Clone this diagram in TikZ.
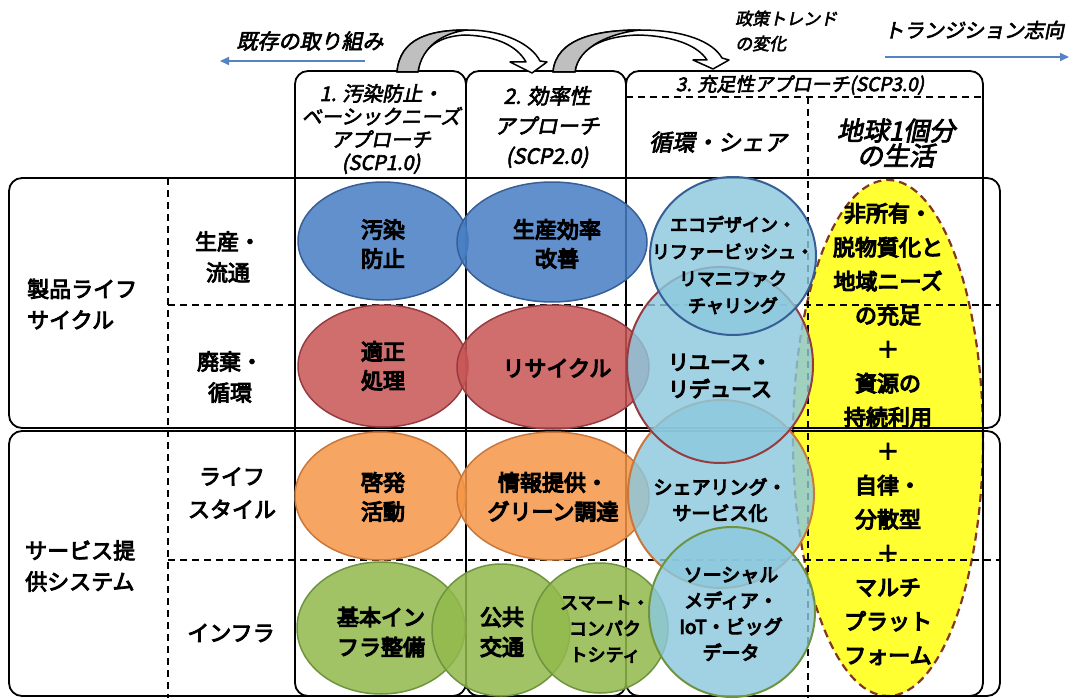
\documentclass[tikz,border=0pt]{standalone}
\usepackage{fontspec}
\newfontfamily\jp{Noto Sans CJK JP}
\newfontfamily\jpm[FakeBold=4]{Noto Sans CJK JP}
\newfontfamily\jpb[FakeBold=5.5]{Noto Sans CJK JP}
\newfontfamily\jpi[FakeSlant=0.2,FakeBold=3]{Noto Sans CJK JP}
\usetikzlibrary{arrows.meta}
\definecolor{cblue}{RGB}{70,125,195}
\definecolor{cbluel}{RGB}{55,95,150}
\definecolor{cred}{RGB}{200,85,85}
\definecolor{credl}{RGB}{150,60,65}
\definecolor{corange}{RGB}{245,150,70}
\definecolor{corangel}{RGB}{200,120,60}
\definecolor{cgreen}{RGB}{145,185,75}
\definecolor{cgreenl}{RGB}{110,148,64}
\definecolor{clblue}{RGB}{140,200,222}
\definecolor{cyellow}{RGB}{255,255,50}
\definecolor{cbrown}{RGB}{130,55,30}
\definecolor{carrow}{RGB}{85,130,195}
\tikzset{
  frame/.style={draw=black, line width=1.8pt, rounded corners=13pt},
  dline/.style={draw=black, line width=1.6pt, dash pattern=on 7pt off 5pt},
  ell/.style={line width=1.5pt, fill opacity=0.85},
  eblue/.style={ell, fill=cblue, draw=cbluel},
  ered/.style={ell, fill=cred, draw=credl},
  eorange/.style={ell, fill=corange, draw=corangel},
  egreen/.style={ell, fill=cgreen, draw=cgreenl},
  circ/.style={line width=2pt, fill=clblue, fill opacity=0.82},
  cell/.style={font=\jpb\fontsize{22}{29}\selectfont, align=center, inner sep=0pt},
  ctext/.style={font=\jpb\fontsize{18}{27}\selectfont, align=center, inner sep=0pt},
  lab/.style={font=\jpm\fontsize{22}{31}\selectfont, align=center, inner sep=0pt},
  head/.style={font=\jpi\fontsize{20}{23}\selectfont, align=center, inner sep=0pt},
  bluearrow/.style={draw=carrow, line width=2pt, -{Triangle[length=9pt,width=8pt]}},
  bandarrow/.style={draw=black, line width=1.5pt, fill=white, line join=round},
  bandgray/.style={draw=black, line width=1.5pt, fill=black!25, line join=round}
}
\begin{document}
\begin{tikzpicture}[x=1pt,y=-1pt]
\useasboundingbox (0,0) rectangle (1071,698);
% yellow region
\fill[cyellow] (888,438) ellipse [x radius=95pt, y radius=258pt];
\draw[cbrown, line width=2.2pt, dash pattern=on 8pt off 5pt] (888,438) ellipse [x radius=95pt, y radius=258pt];
% grid
\draw[frame] (295,71) rectangle (466,696);
\draw[frame] (466,71) rectangle (626,696);
\draw[frame] (626,71) rectangle (983,696);
\draw[frame] (9,178) rectangle (1000,428);
\draw[frame] (9,431) rectangle (1000,696);
\draw[dline] (626,97) -- (983,97);
\draw[dline] (808,97) -- (808,698);
\draw[dline] (168,178) -- (168,698);
\draw[dline] (168,305) -- (1000,305);
\draw[dline] (168,560) -- (1000,560);
% curved arrows
\draw[bandarrow] (397,72) .. controls (400,38) and (430,30) .. (467,30) .. controls (505,30) and (532,45) .. (540,61)
  -- (547,62) -- (532,73) -- (510,62) -- (526,62) .. controls (517,46) and (497,36) .. (465,35)
  .. controls (440,36) and (421,47) .. (418,72) -- cycle;
\draw[bandgray] (397,72) .. controls (400,38) and (430,30) .. (467,30) .. controls (443,33) and (422,46) .. (418,72) -- cycle;
\draw[bandarrow] (553,72) .. controls (556,38) and (598,30) .. (640,30) .. controls (685,30) and (713,42) .. (722,58)
  -- (729,60) -- (713,69) -- (693,60) -- (707,60) .. controls (698,46) and (675,36) .. (638,35)
  .. controls (605,36) and (578,47) .. (575,72) -- cycle;
\draw[bandgray] (553,72) .. controls (556,38) and (598,30) .. (640,30) .. controls (612,33) and (578,46) .. (575,72) -- cycle;
% blue arrows
\coordinate (l1) at (365,61); \coordinate (l2) at (220,61);
\coordinate (r1) at (885,57); \coordinate (r2) at (1069,57);
\draw[bluearrow] (l1) -- (l2);
\draw[bluearrow] (r1) -- (r2);
% ellipses
\draw[eblue] (383,241) ellipse [x radius=85pt, y radius=59pt];
\draw[eblue] (552,242) ellipse [x radius=95pt, y radius=60pt];
\draw[ered] (383,366) ellipse [x radius=85pt, y radius=61pt];
\draw[ered] (553,367) ellipse [x radius=96pt, y radius=62pt];
\draw[eorange] (380,496) ellipse [x radius=85pt, y radius=64pt];
\draw[eorange] (553,496) ellipse [x radius=96pt, y radius=64pt];
\draw[egreen] (381,628) ellipse [x radius=84pt, y radius=66pt];
\draw[egreen] (501,630) ellipse [x radius=69pt, y radius=66pt];
\draw[egreen] (600,628) ellipse [x radius=68pt, y radius=65pt];
% circles in column 3
\draw[circ, draw=corangel] (721,494) ellipse [x radius=93pt, y radius=94pt];
\draw[circ, draw=credl] (720,365) ellipse [x radius=93pt, y radius=98pt];
\draw[circ, draw=cbluel] (733,256) ellipse [x radius=83pt, y radius=79pt];
\draw[circ, draw=cgreenl] (732,612) ellipse [x radius=83pt, y radius=85pt];
% top texts
\node[font=\jpi\fontsize{21}{25}\selectfont, inner sep=0pt] (t1) at (310,41) {既存の取り組み};
\node[font=\jpi\fontsize{17}{25}\selectfont, align=left, anchor=west, inner sep=0pt] (t2) at (735,31) {政策トレンド\\の変化};
\node[font=\jpi\fontsize{20}{25}\selectfont, inner sep=0pt] (t3) at (974,30) {トランジション志向};
% headers
\node[head] (h1) at (381,129) {1. 汚染防止・\\ベーシックニーズ\\アプローチ\\(SCP1.0)};
\node[head, font=\jpi\fontsize{21}{30}\selectfont] (h2) at (547,127) {2. 効率性\\アプローチ\\(SCP2.0)};
\node[head, font=\jpi\fontsize{19}{23}\selectfont] (h3) at (800,85) {3. 充足性アプローチ(SCP3.0)};
\node[head, font=\jpi\fontsize{23}{28}\selectfont] (h4) at (718,142) {循環・シェア};
\node[head, font=\jpi\fontsize{26}{24}\selectfont] (h5) at (896,143) {地球1個分\\の生活};
% left labels
\node[lab, align=left, anchor=west] (r1l) at (27,304) {製品ライフ\\サイクル};
\node[lab, align=left, anchor=west] (r2l) at (25,566) {サービス提\\供システム};
\node[lab] (s1) at (228,257) {生産・\\流通};
\node[lab] (s2) at (230,377) {廃棄・\\循環};
\node[lab, font=\jpm\fontsize{22}{33}\selectfont] (s3) at (232,493) {ライフ\\スタイル};
\node[lab] (s4) at (231,633) {インフラ};
% cell texts
\node[cell] (c11) at (383,244) {汚染\\防止};
\node[cell] (c12) at (557,244) {生産効率\\改善};
\node[cell] (c21) at (383,366) {適正\\処理};
\node[cell] (c22) at (557,368) {リサイクル};
\node[cell] (c31) at (383,497) {啓発\\活動};
\node[cell] (c32) at (553,497) {情報提供・\\グリーン調達};
\node[cell, font=\jpb\fontsize{22}{30}\selectfont] (c41) at (381,632) {基本イン\\フラ整備};
\node[cell, font=\jpb\fontsize{22}{30}\selectfont] (c42) at (502,632) {公共\\交通};
\node[ctext, font=\jpb\fontsize{18}{26}\selectfont] (c43) at (605,629) {スマート・\\コンパク\\トシティ};
\node[ctext] (d1) at (733,265) {エコデザイン・\\リファービッシュ・\\リマニファク\\チャリング};
\node[ctext, font=\jpb\fontsize{21}{27}\selectfont] (d2) at (720,376) {リユース・\\リデュース};
\node[ctext, font=\jpb\fontsize{19}{26}\selectfont] (d3) at (720,500) {シェアリング・\\サービス化};
\node[ctext, font=\jpb\fontsize{19}{26}\selectfont] (d4) at (731,614) {ソーシャル\\メディア・\\IoT・ビッグ\\データ};
\node[cell, font=\jpb\fontsize{22}{34}\selectfont] (y1) at (888,434) {非所有・\\脱物質化と\\地域ニーズ\\の充足\\＋\\資源の\\持続利用\\＋\\自律・\\分散型\\＋\\マルチ\\プラット\\フォーム};
\end{tikzpicture}
\end{document}
